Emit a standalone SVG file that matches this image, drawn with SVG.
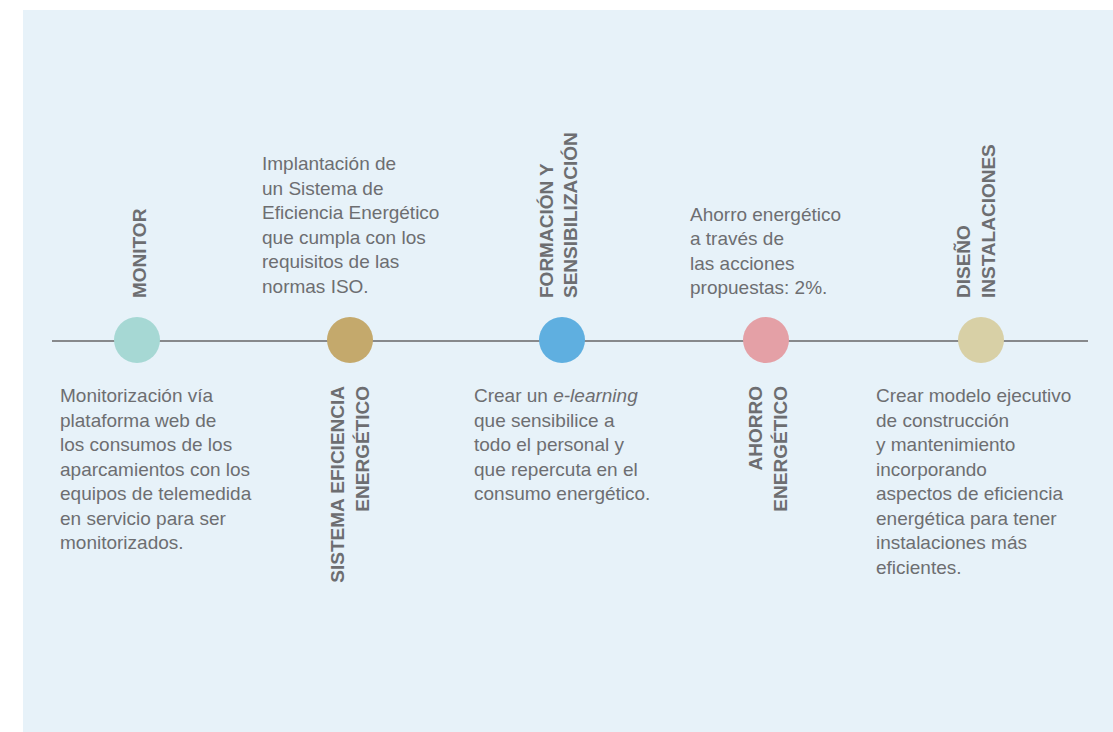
<svg xmlns="http://www.w3.org/2000/svg" width="1113" height="732" viewBox="0 0 1113 732">
<style>
.desc{font-family:"Liberation Sans",Arial,sans-serif;font-size:19px;fill:#6d6e71}
.lbl{font-family:"Liberation Sans",Arial,sans-serif;font-size:19px;font-weight:bold;fill:#6d6e71}
.line{stroke:#87898c;stroke-width:2.2;fill:none}
</style>
<rect x="23" y="10" width="1090" height="722" fill="#e7f2f9"/>
<g id="connectors">
<line class="line" x1="52" y1="341" x2="1088" y2="341"/>
</g>
<g id="monitor">
<circle cx="137" cy="340" r="23" fill="#a6d8d4"/>
<text class="lbl" transform="translate(146,298) rotate(-90)">MONITOR</text>
<text class="desc" x="60" y="402">
<tspan x="60" y="402">Monitorización vía</tspan>
<tspan x="60" y="426.5">plataforma web de</tspan>
<tspan x="60" y="451">los consumos de los</tspan>
<tspan x="60" y="475.5">aparcamientos con los</tspan>
<tspan x="60" y="500">equipos de telemedida</tspan>
<tspan x="60" y="524.5">en servicio para ser</tspan>
<tspan x="60" y="549">monitorizados.</tspan>
</text>
</g>
<g id="sistema">
<circle cx="350" cy="340" r="23" fill="#c4a96c"/>
<text class="lbl" text-anchor="end" transform="translate(344,386) rotate(-90)">SISTEMA EFICIENCIA</text>
<text class="lbl" text-anchor="end" transform="translate(369,386) rotate(-90)">ENERGÉTICO</text>
<text class="desc">
<tspan x="262" y="170">Implantación de</tspan>
<tspan x="262" y="194.5">un Sistema de</tspan>
<tspan x="262" y="219">Eficiencia Energético</tspan>
<tspan x="262" y="243.5">que cumpla con los</tspan>
<tspan x="262" y="268">requisitos de las</tspan>
<tspan x="262" y="292.5">normas ISO.</tspan>
</text>
</g>
<g id="formacion">
<circle cx="562" cy="340" r="23" fill="#5fafe0"/>
<text class="lbl" transform="translate(553,298) rotate(-90)">FORMACIÓN Y</text>
<text class="lbl" transform="translate(577,298) rotate(-90)">SENSIBILIZACIÓN</text>
<text class="desc">
<tspan x="474" y="402">Crear un <tspan font-style="italic">e-learning</tspan></tspan>
<tspan x="474" y="426.5">que sensibilice a</tspan>
<tspan x="474" y="451">todo el personal y</tspan>
<tspan x="474" y="475.5">que repercuta en el</tspan>
<tspan x="474" y="500">consumo energético.</tspan>
</text>
</g>
<g id="ahorro">
<circle cx="766" cy="340" r="23" fill="#e4a0a6"/>
<text class="lbl" text-anchor="end" transform="translate(762,386) rotate(-90)">AHORRO</text>
<text class="lbl" text-anchor="end" transform="translate(787,386) rotate(-90)">ENERGÉTICO</text>
<text class="desc">
<tspan x="690" y="220.5">Ahorro energético</tspan>
<tspan x="690" y="245">a través de</tspan>
<tspan x="690" y="269.5">las acciones</tspan>
<tspan x="690" y="294">propuestas: 2%.</tspan>
</text>
</g>
<g id="diseno">
<circle cx="981" cy="340" r="23" fill="#d8d0a6"/>
<text class="lbl" transform="translate(970,298) rotate(-90)">DISEÑO</text>
<text class="lbl" transform="translate(995,298) rotate(-90)">INSTALACIONES</text>
<text class="desc">
<tspan x="876" y="402">Crear modelo ejecutivo</tspan>
<tspan x="876" y="426.5">de construcción</tspan>
<tspan x="876" y="451">y mantenimiento</tspan>
<tspan x="876" y="475.5">incorporando</tspan>
<tspan x="876" y="500">aspectos de eficiencia</tspan>
<tspan x="876" y="524.5">energética para tener</tspan>
<tspan x="876" y="549">instalaciones más</tspan>
<tspan x="876" y="573.5">eficientes.</tspan>
</text>
</g>
</svg>
